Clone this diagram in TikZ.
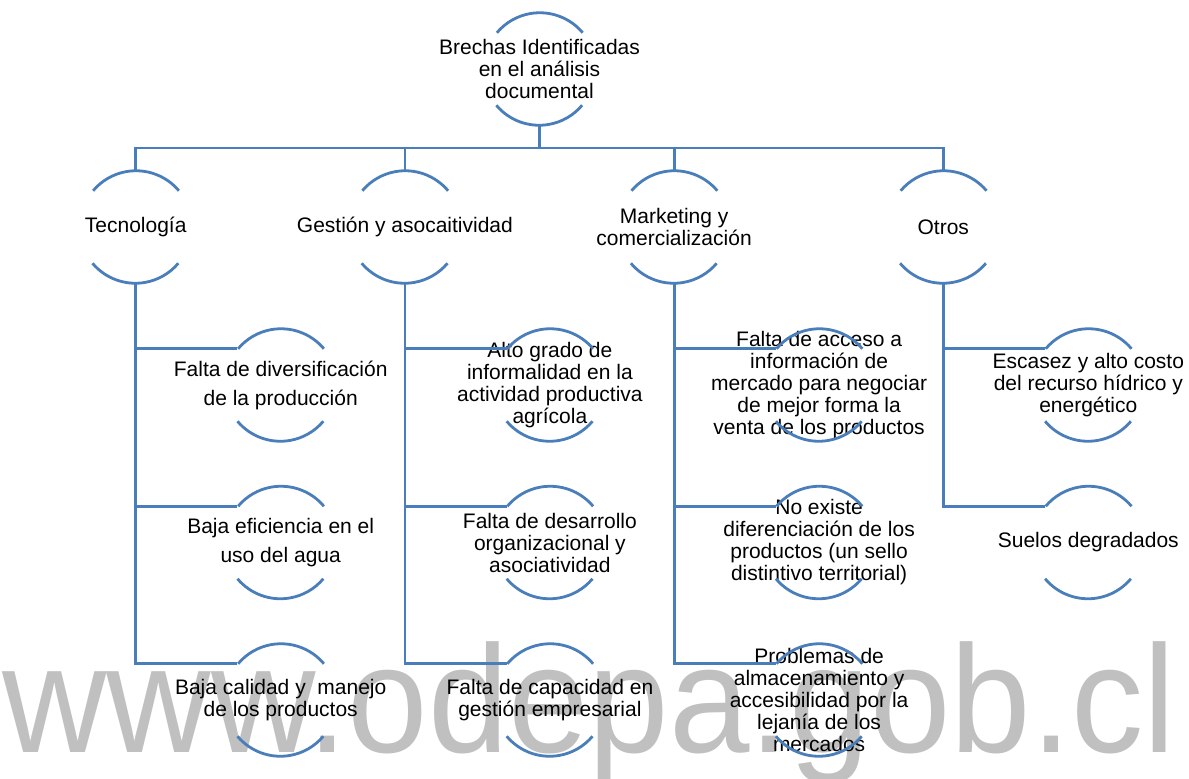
\documentclass[tikz,border=0pt]{standalone}
\usepackage{fontspec}
\setmainfont{Liberation Sans}
\usetikzlibrary{positioning, calc}
\definecolor{azul}{HTML}{4A7EBB}
\definecolor{marca}{HTML}{C0C0C0}
\tikzset{
  on grid,
  linea/.style={draw=azul, line width=1.4pt},
  texto/.style={align=center, inner sep=0pt, font=\fontsize{10.5}{11}\selectfont},
  brecha/.style={circle, minimum size=56pt, inner sep=0pt, label={[texto]center:{#1}}},
}

\begin{document}
\begin{tikzpicture}
  \useasboundingbox (0,0) rectangle (594.5pt,-389pt);

  % marca de agua
  \node[anchor=base west, inner sep=0pt, text=marca, xscale=0.945,
        font=\fontsize{76.5}{80}\selectfont] (web) at (1pt,-376pt) {www.odepa.gob.cl};

  % nodos
  \node[brecha={Brechas Identificadas\\en el análisis\\documental}] (raiz) at (269.75pt,-34.5pt) {};
  \node[brecha={Tecnología}, below left=79pt and 201.9pt of raiz] (tec) {};
  \node[brecha={Gestión y asocaitividad}, right=134.6pt of tec] (ges) {};
  \node[brecha={Marketing y\\comercialización}, right=134.6pt of ges] (mar) {};
  \node[brecha={Otros}, right=134.6pt of mar] (otr) {};

  \node[brecha={Falta de diversificación\\[3.5pt]de la producción}, below right=79pt and 72.5pt of tec] (t1) {};
  \node[brecha={Baja eficiencia en el\\[3.5pt]uso del agua}, below=78.75pt of t1] (t2) {};
  \node[brecha={Baja calidad y~ manejo\\de los productos}, below=78.75pt of t2] (t3) {};

  \node[brecha={Alto grado de\\informalidad en la\\actividad productiva\\agrícola}, below right=79pt and 72.5pt of ges] (g1) {};
  \node[brecha={Falta de desarrollo\\organizacional y\\asociatividad}, below=78.75pt of g1] (g2) {};
  \node[brecha={Falta de capacidad en\\gestión empresarial}, below=78.75pt of g2] (g3) {};

  \node[brecha={Falta de acceso a\\información de\\mercado para negociar\\de mejor forma la\\venta de los productos}, below right=79pt and 72.5pt of mar] (m1) {};
  \node[brecha={No existe\\diferenciación de los\\productos (un sello\\distintivo territorial)}, below=78.75pt of m1] (m2) {};
  \node[brecha={Problemas de\\almacenamiento y\\accesibilidad por la\\lejanía de los\\mercados}, below=78.75pt of m2] (m3) {};

  \node[brecha={Escasez y alto costo\\del recurso hídrico y\\energético}, below right=79pt and 72.5pt of otr] (o1) {};
  \node[brecha={Suelos degradados}, below=78.75pt of o1] (o2) {};

  % arcos
  \foreach \n in {raiz,tec,ges,mar,otr,t1,t2,t3,g1,g2,g3,m1,m2,m3,o1,o2}
    \draw[linea] (\n.40) arc[start angle=40, end angle=140, radius=28pt]
                 (\n.220) arc[start angle=220, end angle=320, radius=28pt];

  % conexiones
  \coordinate (barra) at ($(raiz.south)!0.5!(raiz.south |- tec.north)$);
  \draw[linea] (raiz.south) -- (barra);
  \draw[linea] (tec.north) |- (barra -| otr.north) -- (otr.north);
  \draw[linea] (ges.north) -- (ges.north |- barra);
  \draw[linea] (mar.north) -- (mar.north |- barra);
  \foreach \p/\h in {tec/t1,tec/t2,tec/t3,ges/g1,ges/g2,ges/g3,mar/m1,mar/m2,mar/m3,otr/o1,otr/o2}
    \draw[linea] (\p.south) |- (\h.140);
\end{tikzpicture}
\end{document}
